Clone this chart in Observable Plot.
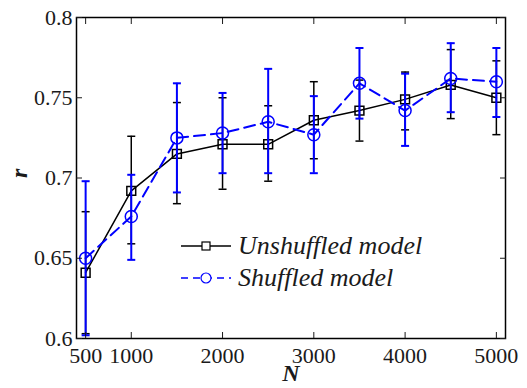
<!DOCTYPE html>
<html><head><meta charset="utf-8">
<script src="https://cdn.jsdelivr.net/npm/d3@7"></script>
<script src="https://cdn.jsdelivr.net/npm/@observablehq/plot@0.6"></script>
<style>
body{margin:0;background:#fff}
#wrap{position:relative;width:527px;height:388px}
#legend{position:absolute;left:0;top:0;pointer-events:none}
#wrap svg text{font-family:"Liberation Serif","Times New Roman",Times,Tinos,"DejaVu Serif",serif}
</style>
</head><body><div id="wrap"></div>
<script>
// Data
const N = [500, 1000, 1500, 2000, 2500, 3000, 3500, 4000, 4500, 5000];
const unshuffled   = [0.641, 0.692, 0.715, 0.721, 0.721, 0.736, 0.742, 0.749, 0.758, 0.750];
const unshuffledLo = [0.603, 0.659, 0.684, 0.693, 0.698, 0.712, 0.723, 0.730, 0.737, 0.727];
const unshuffledHi = [0.679, 0.726, 0.747, 0.750, 0.745, 0.760, 0.761, 0.766, 0.780, 0.773];
const shuffled     = [0.650, 0.676, 0.725, 0.728, 0.735, 0.727, 0.759, 0.742, 0.762, 0.760];
const shuffledLo   = [0.602, 0.649, 0.691, 0.703, 0.703, 0.703, 0.737, 0.720, 0.741, 0.738];
const shuffledHi   = [0.698, 0.702, 0.759, 0.753, 0.768, 0.751, 0.781, 0.765, 0.784, 0.781];
const xTicks = [500, 1000, 2000, 3000, 4000, 5000];
const yTicks = [0.6, 0.65, 0.7, 0.75, 0.8];
const yTickLabels = ["0.6", "0.65", "0.7", "0.75", "0.8"];
const seriesNames = ["Unshuffled model", "Shuffled model"];
const xLabel = "N";
const yLabel = "r";

const BLUE = "#0000ff";
const FONT = '"Liberation Serif","Times New Roman",Times,Tinos,"DejaVu Serif",serif';
const idx = d3.range(N.length);
const cap = {draw(ctx, size) { const r = Math.sqrt(size / Math.PI); ctx.moveTo(-r, 0); ctx.lineTo(r, 0); }};

function series(vals, lo, hi, color, symbol, r, lw, dash, barW) {
  return [
    Plot.ruleX(idx, {x: i => N[i], y1: i => lo[i], y2: i => hi[i], stroke: color, strokeWidth: barW}),
    Plot.dot(idx, {x: i => N[i], y: i => lo[i], symbol: cap, r: 4, stroke: color, strokeWidth: barW}),
    Plot.dot(idx, {x: i => N[i], y: i => hi[i], symbol: cap, r: 4, stroke: color, strokeWidth: barW}),
    Plot.line(idx, {x: i => N[i], y: i => vals[i], stroke: color, strokeWidth: lw, strokeDasharray: dash}),
    Plot.dot(idx, {x: i => N[i], y: i => vals[i], symbol, r, stroke: color, fill: "none", strokeWidth: 1.5})
  ];
}

const chart = Plot.plot({
  width: 527,
  height: 388,
  marginLeft: 76,
  marginRight: 22,
  marginTop: 17,
  marginBottom: 50,
  style: {fontFamily: FONT, fontSize: "22px", color: "#1a1a1a", background: "#fff"},
  x: {domain: [400, 5100]},
  y: {domain: [0.6, 0.8]},
  marks: [
    ...series(unshuffled, unshuffledLo, unshuffledHi, "#000", "square", 5, 1.5, null, 1.5),
    ...series(shuffled, shuffledLo, shuffledHi, BLUE, "circle", 6, 2, "11,6", 2),
    Plot.frame({stroke: "#000", strokeWidth: 1.5}),
    Plot.axisX({anchor: "bottom", ticks: xTicks, tickSize: -6, tickPadding: 15, tickFormat: d => String(d), label: null}),
    Plot.axisX({anchor: "top", ticks: xTicks, tickSize: -6, tickFormat: () => "", label: null}),
    Plot.axisY({anchor: "left", ticks: yTicks, tickSize: -6, tickPadding: 10, tickFormat: d => yTickLabels[yTicks.indexOf(d)] ?? String(d), label: null}),
    Plot.axisY({anchor: "right", ticks: yTicks, tickSize: -6, tickFormat: () => "", label: null}),
    Plot.text([xLabel], {frameAnchor: "bottom", dy: 42, fontSize: 24, fontWeight: "bold", fontStyle: "italic", text: d => d}),
    Plot.text([yLabel], {frameAnchor: "left", dx: -57, rotate: -90, fontSize: 24, fontWeight: "bold", fontStyle: "italic", text: d => d})
  ]
});

const wrap = document.getElementById("wrap");
wrap.appendChild(chart);

// Legend overlay
const legendItems = [
  {name: seriesNames[0], color: "#000", dash: null, symbol: "square", lw: 1.5},
  {name: seriesNames[1], color: BLUE, dash: "7,5", symbol: "circle", lw: 1.5}
];
const lg = d3.select(wrap).append("svg").attr("id", "legend").attr("width", 527).attr("height", 388);
legendItems.forEach((it, k) => {
  const y = 246 + k * 32;
  const g = lg.append("g").attr("transform", `translate(0,${y})`);
  g.append("line").attr("x1", 181).attr("x2", 231).attr("y1", 0).attr("y2", 0)
    .attr("stroke", it.color).attr("stroke-width", it.lw).attr("stroke-dasharray", it.dash);
  if (it.symbol === "square") {
    g.append("rect").attr("x", 202).attr("y", -4).attr("width", 8).attr("height", 8)
      .attr("fill", "#fff").attr("stroke", it.color).attr("stroke-width", 1.2);
  } else {
    g.append("circle").attr("cx", 206).attr("cy", 0).attr("r", 5)
      .attr("fill", "#fff").attr("stroke", it.color).attr("stroke-width", 1.2);
  }
  g.append("text").attr("x", 238).attr("y", 0).attr("dy", "0.32em")
    .attr("font-family", FONT).attr("font-style", "italic").attr("font-size", 26)
    .attr("fill", "#1a1a1a").text(it.name);
});
</script>
</body></html>
